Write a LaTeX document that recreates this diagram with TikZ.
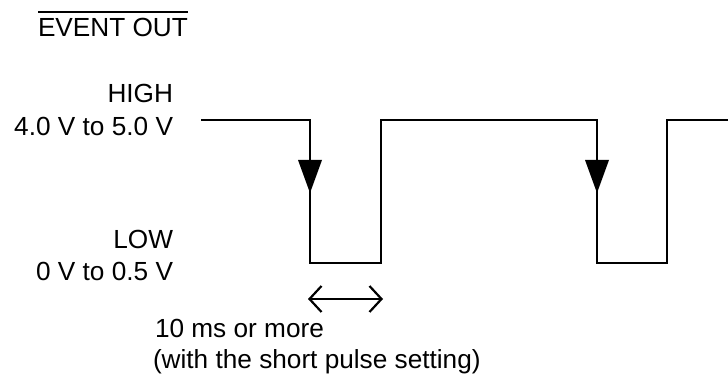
\documentclass[tikz,border=0pt]{standalone}
\usepackage{fontspec}
\setmainfont{Liberation Sans}
\usetikzlibrary{arrows.meta,positioning,calc}

\begin{document}
\begin{tikzpicture}[
  x=1pt, y=-1pt,
  font=\fontsize{26.2}{31}\selectfont,
  lbl/.style={inner sep=0pt, outer sep=0pt},
  wave/.style={line width=2.6pt, line join=miter},
  edgemark/.style={fill=black, draw=none},
  span/.style={{Straight Barb[length=12pt,width=26pt]}-{Straight Barb[length=12pt,width=26pt]}, line width=2.2pt},
]
\useasboundingbox (0,0) rectangle (728,374);

% signal name with bar
\node[lbl, anchor=base west] (name) at (38,37) {EVENT OUT};
\draw[line width=2pt] ($(name.north west)+(0,-6.5)$) -- ($(name.north east)+(0,-6.5)$);

% level labels
\node[lbl, anchor=base east] (high)  at (173,103) {HIGH};
\node[lbl, anchor=base east] (highv) at (173,136) {4.0 V to 5.0 V};
\node[lbl, anchor=base east] (low)   at (173,248) {LOW};
\node[lbl, anchor=base east] (lowv)  at (173,280) {0 V to 0.5 V};

% waveform
\coordinate (s)  at (201,120);
\coordinate (f1) at (310,120);
\coordinate (r1) at (381,120);
\coordinate (f2) at (597,120);
\coordinate (r2) at (667,120);
\coordinate (e)  at (728,120);
\draw[wave] (s) -- (f1) -- (f1 |- 0,263) -- (r1 |- 0,263) -- (r1)
  -- (f2) -- (f2 |- 0,263) -- (r2 |- 0,263) -- (r2) -- (e);

% falling edge marks
\foreach \c in {f1, f2}
  \fill[edgemark] ($(\c)+(-12,40)$) -- ($(\c)+(12,40)$) -- ($(\c)+(0,73)$) -- cycle;

% pulse width
\coordinate (wl) at (308,299);
\coordinate (wr) at (383,299);
\draw[span] (wl) -- (wr);
\node[lbl, anchor=base west] (width) at (155,337) {10 ms or more};
\node[lbl, anchor=base west] (note)  at (153,368) {(with the short pulse setting)};

\end{tikzpicture}
\end{document}
